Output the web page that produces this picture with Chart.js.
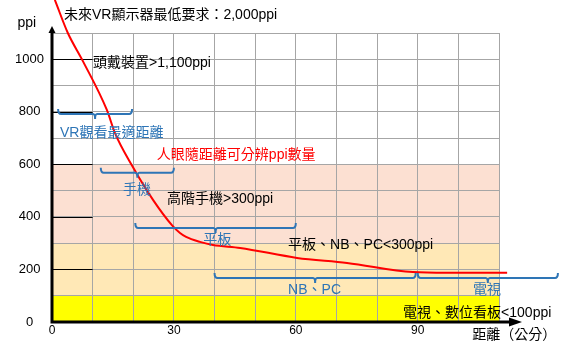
<!DOCTYPE html>
<html>
<head>
<meta charset="utf-8">
<script src="https://cdn.jsdelivr.net/npm/chart.js@4/dist/chart.umd.min.js"></script>
<style>
html,body{margin:0;padding:0;background:#fff;}
canvas{display:block;}
</style>
</head>
<body>
<canvas id="c" width="576" height="353"></canvas>
<script>
// ---- data ----
const xMax = 110;
const yMax = 1100;
const xTickLabels = [0, 30, 60, 90];
const yTickLabels = [0, 200, 400, 600, 800, 1000];
const curveX = [0.7, 3.9, 7.6, 13.5, 15.5, 19.9, 24.9, 29.5, 31.5, 33, 36.4, 39.6, 46.3, 60.3, 72.6, 88.8, 97.2, 112];
const curveY = [1226, 1100, 993, 807, 719, 590, 464, 369, 339, 324, 305, 293, 282, 244, 225, 190, 187, 187];
const bandLevels = [0, 100, 300, 600];
const bracketStart = [1.5, 12, 20.5, 40, 90];
const bracketEnd = [19.7, 30, 60, 89.5, 124.5];
const bracketLevel = [792, 568, 358, 167, 167];
const noteTexts = [
  '未來VR顯示器最低要求：2,000ppi',
  '頭戴裝置>1,100ppi',
  'VR觀看最適距離',
  '人眼隨距離可分辨ppi數量',
  '手機',
  '高階手機>300ppi',
  '平板',
  '平板、NB、PC<300ppi',
  'NB、PC',
  '電視',
  '電視、數位看板<100ppi',
  'ppi',
  '距離（公分）'
];

// ---- styles / layout ----
const bandColors = ['#FFFF00', '#FFE8B6', '#FCE0D2'];
const BLUE = '#2E75B6';
const FONT = '"Liberation Sans", Arial, "Noto Sans CJK TC", sans-serif';
// positions of notes in data units (left edge, vertical middle)
const notePos = [
  [2.95, 1169], [10.1, 986], [1.97, 719], [25.8, 636], [17.5, 502], [28.3, 468],
  [37.2, 312], [58.1, 293], [58.1, 122], [103.6, 122], [86.4, 34], [-6.2, 1138], [103.4, -49]
];
const noteColor = ['#000', '#000', BLUE, '#FF0000', BLUE, '#000', BLUE, '#000', BLUE, BLUE, '#000', '#000', '#000'];
const noteAlign = ['left','left','left','left','left','left','left','left','left','left','left','center','left'];
const noteSize = [14,14,14,14,14,14,14,14,14,14,14,14,14];

const curveData = curveX.map((x, i) => ({x: x, y: curveY[i]}));

const decor = {
  id: 'decor',
  beforeDraw(chart) {
    const {ctx, scales: {x, y}} = chart;
    ctx.save();
    ctx.fillStyle = '#fff';
    ctx.fillRect(0, 0, chart.width, chart.height);
    const xl = x.getPixelForValue(0), xr = x.getPixelForValue(xMax);
    for (let i = 0; i < bandColors.length; i++) {
      const yb = y.getPixelForValue(bandLevels[i]);
      const yt = y.getPixelForValue(bandLevels[i + 1]);
      ctx.fillStyle = bandColors[i];
      ctx.fillRect(xl, yt, xr - xl, yb - yt);
    }
    ctx.restore();
  },
  beforeDatasetsDraw(chart) {
    const {ctx, scales: {x, y}} = chart;
    ctx.save();
    ctx.strokeStyle = '#000';
    ctx.lineWidth = 1;
    yTickLabels.forEach(v => {
      if (v === 0) return;
      const py = Math.round(y.getPixelForValue(v)) + 0.5;
      ctx.beginPath();
      ctx.moveTo(x.getPixelForValue(0), py);
      ctx.lineTo(x.getPixelForValue(10), py);
      ctx.stroke();
    });
    ctx.restore();
  },
  afterDatasetsDraw(chart) {
    const {ctx, scales: {x, y}} = chart;
    ctx.save();
    // brackets
    ctx.strokeStyle = BLUE;
    ctx.lineWidth = 2;
    for (let i = 0; i < bracketStart.length; i++) {
      const x0 = x.getPixelForValue(bracketStart[i]);
      const x1 = x.getPixelForValue(bracketEnd[i]);
      const xc = (x0 + x1) / 2;
      const py = y.getPixelForValue(bracketLevel[i]);
      ctx.beginPath();
      ctx.moveTo(x0, py - 5);
      ctx.quadraticCurveTo(x0, py, x0 + 3, py);
      ctx.lineTo(xc - 2, py);
      ctx.quadraticCurveTo(xc, py, xc, py + 5);
      ctx.quadraticCurveTo(xc, py, xc + 2, py);
      ctx.lineTo(x1 - 3, py);
      ctx.quadraticCurveTo(x1, py, x1, py - 5);
      ctx.stroke();
    }
    // axes
    const ox = x.getPixelForValue(0), oy = y.getPixelForValue(0);
    ctx.strokeStyle = '#000';
    ctx.fillStyle = '#000';
    ctx.lineWidth = 3;
    ctx.beginPath();
    ctx.moveTo(ox, oy + 1.5);
    ctx.lineTo(ox, 32);
    ctx.moveTo(ox - 1.5, oy);
    ctx.lineTo(511, oy);
    ctx.stroke();
    ctx.beginPath();
    ctx.moveTo(ox, 26); ctx.lineTo(ox - 3.5, 33); ctx.lineTo(ox + 3.5, 33); ctx.closePath();
    ctx.fill();
    ctx.beginPath();
    ctx.moveTo(522, oy); ctx.lineTo(509, oy - 4.5); ctx.lineTo(509, oy + 4.5); ctx.closePath();
    ctx.fill();
    ctx.restore();
  },
  afterDraw(chart) {
    const {ctx, scales: {x, y}} = chart;
    ctx.save();
    ctx.textBaseline = 'middle';
    noteTexts.forEach((t, i) => {
      ctx.font = noteSize[i] + 'px ' + FONT;
      ctx.fillStyle = noteColor[i];
      ctx.textAlign = noteAlign[i];
      ctx.fillText(t, x.getPixelForValue(notePos[i][0]), y.getPixelForValue(notePos[i][1]));
    });
    ctx.restore();
  }
};

new Chart(document.getElementById('c'), {
  type: 'line',
  data: {
    datasets: [{
      data: curveData,
      borderColor: '#FF0000',
      borderWidth: 2,
      pointRadius: 0,
      cubicInterpolationMode: 'monotone',
      capBezierPoints: false,
      clip: false,
      fill: false
    }]
  },
  options: {
    responsive: false,
    animation: false,
    devicePixelRatio: 1,
    layout: {padding: {left: 0, right: 77, top: 33, bottom: 11}},
    plugins: {legend: {display: false}, tooltip: {enabled: false}},
    scales: {
      x: {
        type: 'linear', min: 0, max: xMax,
        afterFit(s) { s.height = 20; },
        border: {display: false},
        grid: {color: '#A6A6A6', lineWidth: 1, drawTicks: false},
        ticks: {
          stepSize: 10, autoSkip: false, maxRotation: 0, padding: 1,
          color: '#000', font: {family: FONT, size: 12},
          callback: v => xTickLabels.includes(v) ? String(v) : ''
        }
      },
      y: {
        type: 'linear', min: 0, max: yMax,
        afterFit(s) { s.width = 52; },
        border: {display: false},
        grid: {color: '#A6A6A6', lineWidth: 1, drawTicks: false},
        ticks: {
          stepSize: 100, autoSkip: false, padding: 8, crossAlign: 'center',
          color: '#000', font: {family: FONT, size: 13},
          callback: v => yTickLabels.includes(v) ? String(v) : ''
        }
      }
    }
  },
  plugins: [decor]
});
</script>
</body>
</html>
